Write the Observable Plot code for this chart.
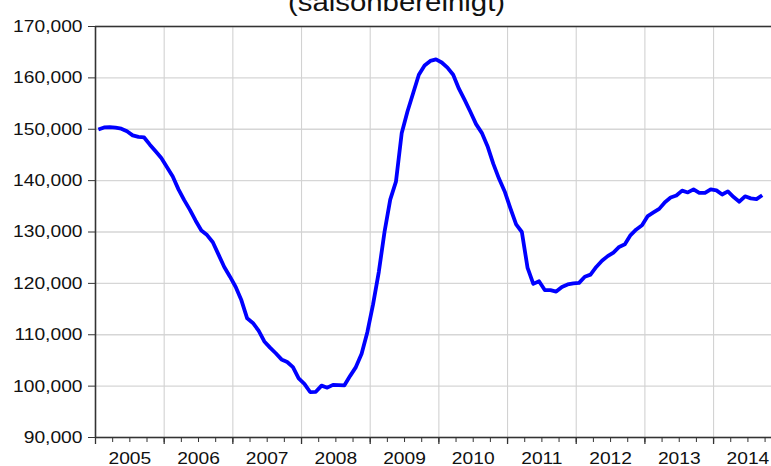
<!DOCTYPE html>
<html>
<head>
<meta charset="utf-8">
<script src="https://cdn.jsdelivr.net/npm/d3@7"></script>
<script src="https://cdn.jsdelivr.net/npm/@observablehq/plot@0.6"></script>
<style>
  body { margin: 0; background: #fff; }
  #chart { width: 771px; height: 466px; overflow: hidden; }
</style>
</head>
<body>
<div id="chart"></div>
<script>
const title = "(saisonbereinigt)";
const startYear = 2005;
// Monthly values, Jan 2005 .. Sep 2014 (seasonally adjusted)
const monthlyValues = [
  149950, 150350, 150400, 150300, 150100, 149600, 148800, 148500, 148400, 147000, 145700, 144400, // 2005
  142600, 140800, 138300, 136200, 134300, 132200, 130300, 129400, 128000, 125600, 123200, 121300, // 2006
  119300, 116700, 113200, 112300, 110800, 108700, 107500, 106400, 105200, 104700, 103700, 101500, // 2007
  100450, 98850, 98900, 100100, 99700, 100250, 100200, 100150, 102000, 103700, 106300, 110500,   // 2008
  115900, 122200, 130000, 136300, 139800, 149200, 153400, 157000, 160600, 162400, 163300, 163600, // 2009
  163000, 162000, 160600, 157900, 155700, 153400, 151000, 149300, 146700, 143300, 140400, 137900, // 2010
  134600, 131500, 130000, 123000, 119900, 120400, 118700, 118700, 118400, 119300, 119800, 120000, // 2011
  120100, 121300, 121700, 123200, 124400, 125300, 126000, 127100, 127600, 129400, 130500, 131300, // 2012
  133100, 133800, 134500, 135800, 136700, 137100, 138050, 137700, 138300, 137600, 137600, 138300, // 2013
  138100, 137300, 137900, 136800, 135900, 136950, 136550, 136400, 137150                          // 2014
];
const yTicks = [90000, 100000, 110000, 120000, 130000, 140000, 150000, 160000, 170000];
const yearLabels = [2005, 2006, 2007, 2008, 2009, 2010, 2011, 2012, 2013, 2014];

const data = monthlyValues.map((v, i) => ({ t: startYear + (i + 0.5) / 12, value: v }));
const quarterTicks = yearLabels.flatMap(y => [y, y + 0.25, y + 0.5, y + 0.75]);
const yearMids = yearLabels.map(y => y + 0.5);

const frameColor = "#333";
const chart = Plot.plot({
  width: 771,
  height: 466,
  marginLeft: 95,
  marginRight: 0,
  marginTop: 26,
  marginBottom: 29,
  x: { domain: [2005, 2005 + 676 / 68.675], axis: null },
  y: { domain: [90000, 170000], axis: null },
  style: { fontFamily: "'Liberation Sans', Arial, sans-serif", fontSize: "17px", color: "#111", background: "#fff" },
  marks: [
    Plot.gridY(yTicks, { stroke: "#d6d6d6", strokeOpacity: 1, strokeWidth: 1.3 }),
    Plot.gridX(yearLabels.slice(1), { stroke: "#d2d2d2", strokeOpacity: 1, strokeWidth: 1.1 }),
    Plot.line(data, { x: "t", y: "value", stroke: "#0000ff", strokeWidth: 3.8, strokeLinejoin: "round", strokeLinecap: "butt" }),
    Plot.ruleY([170000], { stroke: frameColor, strokeWidth: 1.6 }),
    Plot.ruleY([90000], { stroke: frameColor, strokeWidth: 1.6 }),
    Plot.ruleX([2005], { stroke: frameColor, strokeWidth: 1.6 }),
    Plot.axisY(yTicks, { label: null, tickSize: 7, tickPadding: 6, tickFormat: d3.format(","), stroke: frameColor, fill: "#111" }),
    Plot.axisX(quarterTicks, { label: null, tickSize: 5, tickFormat: () => "", stroke: frameColor }),
    Plot.axisX(yearLabels, { label: null, tickSize: 7, tickFormat: () => "", stroke: frameColor, strokeWidth: 1.3 }),
    Plot.axisX(yearMids, { label: null, tickSize: 0, tickPadding: 14, tickFormat: (d) => String(Math.floor(d)), fill: "#111" }),
    Plot.text([title], { frameAnchor: "top", dx: -37, dy: -16, lineAnchor: "bottom", fontSize: 26, fill: "#111" })
  ]
});
document.getElementById("chart").append(chart);

// Horizontal stretch of the text, like the reference's lettering
chart.querySelectorAll("text").forEach(t => {
  const len = t.getComputedTextLength();
  if (len > 0) {
    t.setAttribute("textLength", (len * 1.13).toFixed(1));
    t.setAttribute("lengthAdjust", "spacingAndGlyphs");
  }
});
</script>
</body>
</html>
